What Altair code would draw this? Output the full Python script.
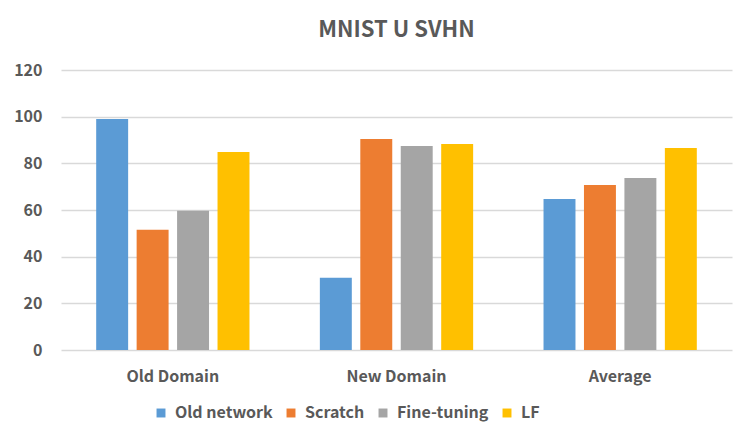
import altair as alt
import pandas as pd

groups = ["Old Domain", "New Domain", "Average"]
methods = ["Old network", "Scratch", "Fine-tuning", "LF"]
old_network = [99.0, 31.0, 64.7]
scratch = [51.5, 90.4, 70.7]
fine_tuning = [59.7, 87.4, 73.7]
lf = [84.9, 88.3, 86.6]
colors = ["#5B9BD5", "#ED7D31", "#A5A5A5", "#FFC000"]

rows = []
for m, vals in zip(methods, [old_network, scratch, fine_tuning, lf]):
    for g, v in zip(groups, vals):
        rows.append({"group": g, "method": m, "value": v})
df = pd.DataFrame(rows)

FONT = "Noto Sans CJK KR"
TXT = "#595959"

chart = alt.Chart(df).mark_bar().encode(
    x=alt.X("group:N", sort=groups, title=None,
            scale=alt.Scale(paddingInner=0, paddingOuter=0),
            axis=alt.Axis(labelAngle=0, labelFont=FONT, labelFontSize=16, labelFontWeight="bold",
                          labelColor=TXT, labelPadding=18, ticks=False, domain=False, grid=False)),
    xOffset=alt.XOffset("method:N", sort=methods,
                        scale=alt.Scale(paddingInner=0.21, paddingOuter=0.87)),
    y=alt.Y("value:Q", title=None,
            scale=alt.Scale(domain=[0, 120], nice=False),
            axis=alt.Axis(values=[0, 20, 40, 60, 80, 100, 120], labelFont=FONT, labelFontSize=16,
                          labelFontWeight="bold", labelColor=TXT, labelPadding=19,
                          ticks=False, domain=False, grid=True, gridColor="#D9D9D9", gridWidth=1.3)),
    color=alt.Color("method:N", sort=methods, title=None,
                    scale=alt.Scale(domain=methods, range=colors),
                    legend=alt.Legend(orient="none", direction="horizontal", legendX=92, legendY=335,
                                      symbolType="square", symbolSize=80, symbolStrokeWidth=0,
                                      labelFont=FONT, labelFontSize=16, labelFontWeight="bold",
                                      labelColor=TXT, labelOffset=6, columnPadding=10)),
).properties(
    width=671, height=280,
    title=alt.TitleParams("MNIST U SVHN", font=FONT, fontSize=22, fontWeight="bold",
                          color=TXT, anchor="middle", offset=20),
    autosize=alt.AutoSizeParams(type="none"),
    padding={"left": 53, "top": 62, "right": 6, "bottom": 81},
).configure_view(stroke=None)

chart.save("out.html", embed_options={"renderer": "svg", "actions": False})
